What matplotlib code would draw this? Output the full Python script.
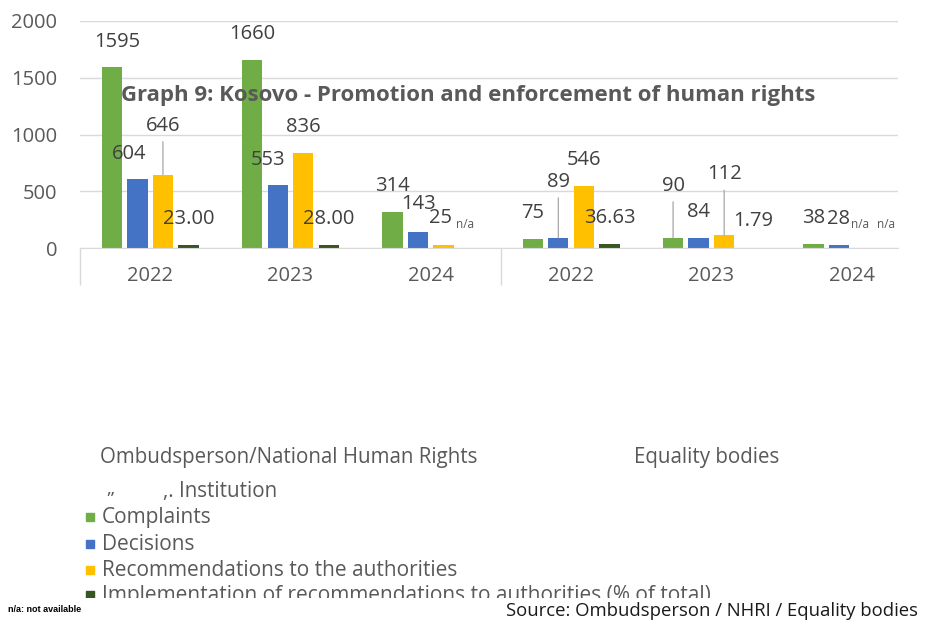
""" Graph 9: Kosovo - Promotion and enforcement of human rights. """

import matplotlib
matplotlib.use("Agg")
import matplotlib.pyplot as plt
from matplotlib.patches import Rectangle
from matplotlib.transforms import blended_transform_factory

# Data (None = n/a)
years = ["2022", "2023", "2024", "2022", "2023", "2024"]
complaints = [1595, 1660, 314, 75, 90, 38]
decisions = [604, 553, 143, 89, 84, 28]
recommendations = [646, 836, 25, 546, 112, None]
implementation = [23.00, 28.00, None, 36.63, 1.79, None]
series_names = ["Complaints", "Decisions", "Recommendations to the authorities",
                "Implementation of recommendations to authorities (% of total)"]
yticks = [0, 500, 1000, 1500, 2000]

colors = ["#70AD47", "#4472C4", "#FFC000", "#375623"]
text_grey = "#595959"
grid_grey = "#d9d9d9"
FONT = "Open Sans"

# label nudges (pixels) where Excel moved the label: (group, series) -> (dx, dy)
nudges = {(0, 0): (5, 25), (0, 1): (-8, 25), (0, 2): (0, 49), (1, 1): (-10, 25),
          (2, 1): (1, 28), (2, 2): (-3, 27), (3, 1): (0, 56), (4, 0): (0, 52),
          (4, 2): (0, 61), (4, 3): (3, 27)}
leaders = [(0, 2), (3, 1), (4, 0), (4, 2)]

fig = plt.figure(figsize=(9.25, 6.22), dpi=100)
ax = fig.add_axes([80 / 925, 1 - 248 / 622, 818 / 925, 227 / 622])

width = 0.145
step = 0.182
series = [complaints, decisions, recommendations, implementation]
for s, vals in enumerate(series):
    off = (s - 1.5) * step
    for g, v in enumerate(vals):
        x = g + off
        if v is None:
            ax.annotate("n/a", (x, 0), xytext=(-4, 23), textcoords="offset pixels",
                        ha="center", va="center", fontsize=8.5, color=text_grey,
                        family=FONT, clip_on=True)
            continue
        ax.bar(x, v, width=width, color=colors[s], zorder=2)
        label = "%.2f" % v if s == 3 else "%d" % v
        dx, dy = nudges.get((g, s), (0, 26))
        ax.annotate(label, (x, v), xytext=(dx, dy), textcoords="offset pixels",
                    ha="center", va="center", fontsize=14.5, color="#404040",
                    family=FONT, zorder=4, annotation_clip=False)
        if (g, s) in leaders:
            ax.annotate("", (x, v), xytext=(0, dy - 16), textcoords="offset pixels",
                        arrowprops=dict(arrowstyle="-", color="#a6a6a6", lw=0.9,
                                        shrinkA=0, shrinkB=0))

ax.set_xlim(-0.5, 5.33)
ax.set_ylim(0, 2000)
ax.set_yticks(yticks)
ax.set_xticks(range(len(years)))
ax.set_xticklabels(years)
ax.grid(axis="y", color=grid_grey, lw=1, zorder=0)
for sp in ["left", "right", "top"]:
    ax.spines[sp].set_visible(False)
ax.spines["bottom"].set_color(grid_grey)
ax.tick_params(axis="y", length=0, pad=16.5, labelsize=14.5, labelcolor=text_grey)
ax.tick_params(axis="x", length=0, pad=13, labelsize=14.5, labelcolor=text_grey)
for lab in ax.get_xticklabels() + ax.get_yticklabels():
    lab.set_family(FONT)

# category separators below the axis
trans = blended_transform_factory(ax.transData, ax.transAxes)
ax.vlines([-0.5, 2.5], -0.165, 0, transform=trans, color=grid_grey, lw=1, clip_on=False)

fig.text(468 / 925, 1 - 96 / 622,
         "Graph 9: Kosovo - Promotion and enforcement of human rights",
         ha="center", va="center", fontsize=16, fontweight="bold", color=text_grey,
         family=FONT, zorder=10)

# broken legend / group titles block below the chart
fig.text(100 / 925, 1 - 458 / 622, "Ombudsperson/National Human Rights",
         ha="left", va="center", fontsize=14.8, color=text_grey, family=FONT)
fig.text(634 / 925, 1 - 458 / 622, "Equality bodies",
         ha="left", va="center", fontsize=14.8, color=text_grey, family=FONT)
fig.text(106 / 925, 1 - 489 / 622, "\u201e", ha="left", va="center",
         fontsize=14, color=text_grey, family=FONT)
fig.text(163 / 925, 1 - 492 / 622, ",. Institution", ha="left", va="center",
         fontsize=14.8, color=text_grey, family=FONT)

clip = Rectangle((0, 24 / 622), 1, 1, transform=fig.transFigure)
legend_y = [517, 544, 570, 595]
for name, c, yp in zip(series_names, colors, legend_y):
    fig.patches.append(Rectangle((86 / 925, 1 - (yp + 4) / 622), 8 / 925, 8 / 622,
                                 transform=fig.transFigure, color=c, clip_path=clip))
    t = fig.text(102 / 925, 1 - yp / 622, name, ha="left", va="center",
                 fontsize=15, color=text_grey, family=FONT)
    t.set_clip_path(clip)

fig.text(8 / 925, 1 - 610 / 622, "n/a: not available", ha="left", va="center",
         fontsize=6.5, fontweight="bold", color="black", family="Liberation Sans")
fig.text(918 / 925, 1 - 611 / 622, "Source: Ombudsperson / NHRI / Equality bodies",
         ha="right", va="center", fontsize=13.3, color="#1a1a1a", family=FONT)

fig.savefig("out.png", dpi=100)
